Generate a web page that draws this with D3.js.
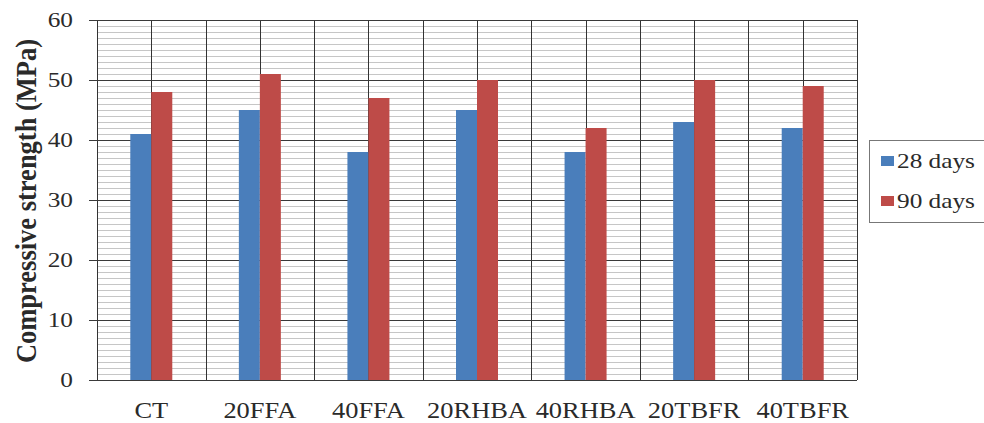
<!DOCTYPE html>
<html>
<head>
<meta charset="utf-8">
<script src="https://cdn.jsdelivr.net/npm/d3@7"></script>
<style>
  html, body { margin: 0; padding: 0; background: #fff; }
  svg { display: block; }
  text { font-family: "Liberation Serif", "Times New Roman", serif; fill: #2a2a2a; }
</style>
</head>
<body>
<svg id="chart" width="984" height="423"></svg>
<script>
// Mixes and their compressive strength at each curing age (MPa)
const categories = ["CT", "20FFA", "40FFA", "20RHBA", "40RHBA", "20TBFR", "40TBFR"];
const seriesNames = ["28 days", "90 days"];
const days28 = [41, 45, 38, 45, 38, 43, 42];
const days90 = [48, 51, 47, 50, 42, 50, 49];
const yTicks = [0, 10, 20, 30, 40, 50, 60];
const colors = ["#4a7ebb", "#be4b48"];

const svg = d3.select("#chart");
const plotLeft = 97, plotRight = 857, plotTop = 20, plotBottom = 380;
const sx = 1.15; // horizontal stretch of the text glyphs

const x = d3.scaleBand().domain(categories).range([plotLeft, plotRight]).padding(0);
const bw = x.bandwidth();
const barW = 21;
const xs = d3.scaleBand().domain(seriesNames).range([bw / 2 - barW, bw / 2 + barW]).padding(0);
const y = d3.scaleLinear().domain([0, 60]).range([plotBottom, plotTop]);

// minor horizontal grid every 1 MPa
const minor = d3.range(0, 61).filter(v => v % 10 !== 0);
svg.append("g").selectAll("line").data(minor).join("line")
  .attr("x1", plotLeft).attr("x2", plotRight)
  .attr("y1", d => Math.round(y(d)) + 0.5).attr("y2", d => Math.round(y(d)) + 0.5)
  .attr("stroke", "#c6c6c6").attr("stroke-width", 1);

// vertical grid: category boundaries and centres
const vx = [];
categories.forEach(c => { vx.push(x(c)); vx.push(x(c) + bw / 2); });
vx.push(plotRight);
svg.append("g").selectAll("line").data(vx).join("line")
  .attr("x1", d => Math.round(d) + 0.5).attr("x2", d => Math.round(d) + 0.5)
  .attr("y1", plotTop).attr("y2", plotBottom)
  .attr("stroke", "#333").attr("stroke-width", 1);

// major horizontal grid with tick marks
svg.append("g").selectAll("line").data(yTicks).join("line")
  .attr("x1", plotLeft - 8).attr("x2", plotRight)
  .attr("y1", d => Math.round(y(d)) + 0.5).attr("y2", d => Math.round(y(d)) + 0.5)
  .attr("stroke", "#3a3a3a").attr("stroke-width", 1);

// bars
const rows = categories.map((c, i) => ({ c, vals: [days28[i], days90[i]] }));
const groups = svg.append("g").selectAll("g").data(rows).join("g")
  .attr("transform", d => `translate(${x(d.c)},0)`);
groups.selectAll("rect").data(d => d.vals.map((v, k) => ({ k, v }))).join("rect")
  .attr("x", d => xs(seriesNames[d.k]))
  .attr("width", xs.bandwidth())
  .attr("y", d => y(d.v))
  .attr("height", d => y(0) - y(d.v))
  .attr("fill", d => colors[d.k]);

// y tick labels
svg.append("g").selectAll("text").data(yTicks).join("text")
  .attr("transform", d => `translate(73,${y(d)}) scale(${sx},1)`)
  .attr("text-anchor", "end").attr("dominant-baseline", "central")
  .style("font-size", "22px")
  .text(d => d);

// x category labels
svg.append("g").selectAll("text").data(categories).join("text")
  .attr("transform", d => `translate(${x(d) + bw / 2},418) scale(${sx},1)`)
  .attr("text-anchor", "middle")
  .style("font-size", "23px")
  .text(d => d);

// y axis title
svg.append("text")
  .attr("transform", `translate(36,201) scale(${sx},1) rotate(-90)`)
  .attr("text-anchor", "middle")
  .style("font-size", "26.5px").style("font-weight", "bold")
  .text("Compressive strength (MPa)");

// legend
const lg = svg.append("g");
lg.append("rect").attr("x", 869.5).attr("y", 140.5).attr("width", 130).attr("height", 82)
  .attr("fill", "#fff").attr("stroke", "#777");
const items = lg.selectAll("g").data(seriesNames).join("g")
  .attr("transform", (d, i) => `translate(0,${168 + i * 40})`);
items.append("rect").attr("x", 881).attr("y", -12).attr("width", 13).attr("height", 10)
  .attr("fill", (d, i) => colors[i]);
items.append("text")
  .attr("transform", `translate(897,0) scale(${sx},1)`)
  .style("font-size", "22px")
  .text(d => d);
</script>
</body>
</html>
